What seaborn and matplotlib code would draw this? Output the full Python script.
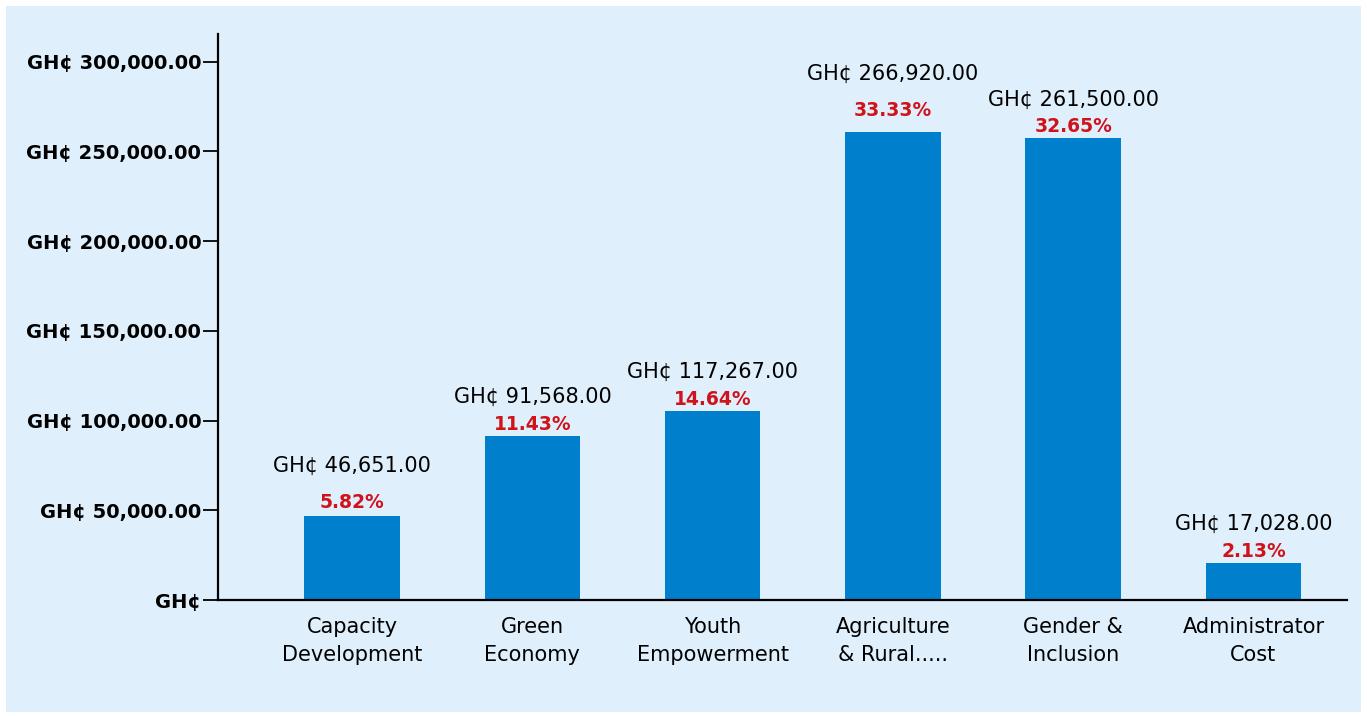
import matplotlib.pyplot as plt
import seaborn as sns
import pandas as pd
from matplotlib.patches import Rectangle

# Data
categories = ['Capacity\nDevelopment', 'Green\nEconomy', 'Youth\nEmpowerment',
              'Agriculture\n& Rural.....', 'Gender &\nInclusion', 'Administrator\nCost']
bar_heights = [46800, 91500, 105400, 260600, 257600, 20800]
amount_labels = ['GH¢ 46,651.00', 'GH¢ 91,568.00', 'GH¢ 117,267.00',
                 'GH¢ 266,920.00', 'GH¢ 261,500.00', 'GH¢ 17,028.00']
pct_labels = ['5.82%', '11.43%', '14.64%', '33.33%', '32.65%', '2.13%']
y_ticks = [0, 50000, 100000, 150000, 200000, 250000, 300000]
y_tick_labels = ['GH¢', 'GH¢ 50,000.00', 'GH¢ 100,000.00', 'GH¢ 150,000.00',
                 'GH¢ 200,000.00', 'GH¢ 250,000.00', 'GH¢ 300,000.00']

# extra lift of the labels above some bars (points)
pct_lift = [2, 0, 0, 8, 0, 0]
amount_lift = [8, 0, 0, 14, -1, 0]

df = pd.DataFrame({'Category': categories, 'Amount': bar_heights})

sns.set_style('white')
plt.rcParams['font.family'] = ['DejaVu Sans']

bg = '#DFF0FC'
fig = plt.figure(figsize=(13.67, 7.16), dpi=100, facecolor='white')
fig.patches.append(Rectangle((6 / 1367, 4 / 716), 1355 / 1367, 706 / 716,
                             transform=fig.transFigure, facecolor=bg,
                             edgecolor='none', zorder=-1))
ax = fig.add_axes([0.1595, 0.162, 0.826, 0.791])
ax.set_facecolor(bg)

sns.barplot(data=df, x='Category', y='Amount', color='#0080CC',
            saturation=1, width=0.53, linewidth=0, ax=ax)

ax.set_xlim(-0.744, 5.52)
ax.set_ylim(0, 315600)
ax.set_yticks(y_ticks)
ax.set_yticklabels(y_tick_labels, fontsize=14, fontweight='bold')
ax.tick_params(axis='y', length=11, width=1.3, pad=1, left=True,
               color='black', labelcolor='black')
ax.tick_params(axis='x', length=0, pad=12, labelsize=15, labelcolor='black')
for lbl in ax.get_xticklabels():
    lbl.set_linespacing(1.55)
ax.set_xlabel('')
ax.set_ylabel('')

sns.despine(ax=ax)
for side in ['left', 'bottom']:
    ax.spines[side].set_color('black')
    ax.spines[side].set_linewidth(1.6)

# Labels above bars
for i, h in enumerate(bar_heights):
    ax.annotate(pct_labels[i], (i, h), xytext=(0, 8 + pct_lift[i]),
                textcoords='offset points', ha='center', va='center',
                fontsize=13.5, fontweight='bold', color='#D0121B')
    ax.annotate(amount_labels[i], (i, h), xytext=(0, 28 + amount_lift[i]),
                textcoords='offset points', ha='center', va='center',
                fontsize=15, color='black')

fig.savefig('out.png', dpi=100, facecolor='white')
